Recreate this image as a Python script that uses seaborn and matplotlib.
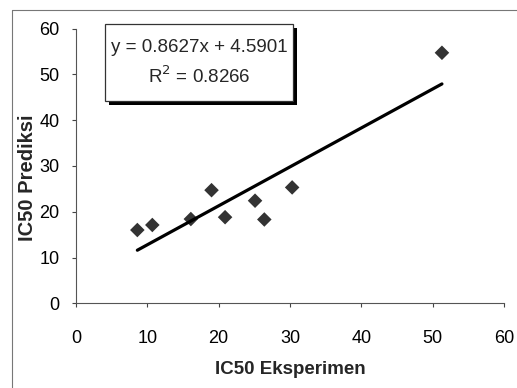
import numpy as np
import matplotlib
matplotlib.use("Agg")
import matplotlib.pyplot as plt
from matplotlib.patches import Rectangle
from matplotlib.lines import Line2D
import seaborn as sns

# data
ic50_eksperimen = [8.6, 10.7, 16.1, 19.0, 20.9, 25.1, 26.4, 30.3, 51.3]
ic50_prediksi = [16.0, 17.1, 18.4, 24.7, 18.8, 22.4, 18.3, 25.3, 54.7]
x_ticks = [0, 10, 20, 30, 40, 50, 60]
y_ticks = [0, 10, 20, 30, 40, 50, 60]
eq_text = "y = 0.8627x + 4.5901"
r2_text = "R$^2$ = 0.8266"

W, H = 517, 388

sns.set_style("white")
plt.rcParams["font.family"] = ["Liberation Sans", "DejaVu Sans"]

fig = plt.figure(figsize=(W / 100, H / 100), dpi=100)
fig.patch.set_facecolor("white")


def px(x0, y0, x1, y1):
    # pixel box -> figure fraction [left, bottom, width, height]
    return [x0 / W, 1 - y1 / H, (x1 - x0) / W, (y1 - y0) / H]


ax = fig.add_axes(px(76, 28.5, 504, 303.3))

sns.regplot(
    x=np.array(ic50_eksperimen),
    y=np.array(ic50_prediksi),
    ci=None,
    marker="D",
    color="black",
    scatter_kws={"s": 55, "edgecolor": "none", "zorder": 3},
    line_kws={"linewidth": 2.3, "solid_capstyle": "round"},
    ax=ax,
)

ax.set_xlim(0, 60)
ax.set_ylim(0, 60)
ax.set_xticks(x_ticks)
ax.set_yticks(y_ticks)
ax.tick_params(axis="both", which="major", direction="out", length=3,
               width=0.8, color="#444444", labelsize=13, labelcolor="black")
ax.tick_params(axis="x", pad=16, bottom=True)
ax.tick_params(axis="y", pad=9, left=True)

for side in ["top", "right"]:
    ax.spines[side].set_visible(False)
for side in ["left", "bottom"]:
    ax.spines[side].set_color("#555555")
    ax.spines[side].set_linewidth(0.8)

ax.set_xlabel("IC50 Eksperimen", fontsize=13.5, fontweight="bold", labelpad=10)
ax.set_ylabel("IC50 Prediksi", fontsize=14.5, fontweight="bold")
ax.yaxis.set_label_coords(-0.091, 0.456)

# equation box with shadow
s = px(109, 28, 297, 105)
shadow = Rectangle((s[0], s[1]), s[2], s[3], transform=fig.transFigure,
                   facecolor="black", edgecolor="none", zorder=5)
b = px(105, 24, 293, 101)
box = Rectangle((b[0], b[1]), b[2], b[3], transform=fig.transFigure,
                facecolor="white", edgecolor="#333333", linewidth=0.9, zorder=6)
fig.patches.extend([shadow, box])
fig.text(199 / W, 1 - 47 / H, eq_text, ha="center", va="center",
         fontsize=13.5, zorder=7)
fig.text(199 / W, 1 - 76 / H, r2_text, ha="center", va="center",
         fontsize=13.5, zorder=7)

# outer chart border (left and top visible in the scan)
fig.lines.append(Line2D([12 / W, 12 / W], [0, 1 - 10 / H],
                        transform=fig.transFigure, color="#777777", lw=0.8))
fig.lines.append(Line2D([12 / W, 1], [1 - 10 / H, 1 - 10 / H],
                        transform=fig.transFigure, color="#777777", lw=0.8))

fig.savefig("out.png", dpi=100, facecolor="white")
